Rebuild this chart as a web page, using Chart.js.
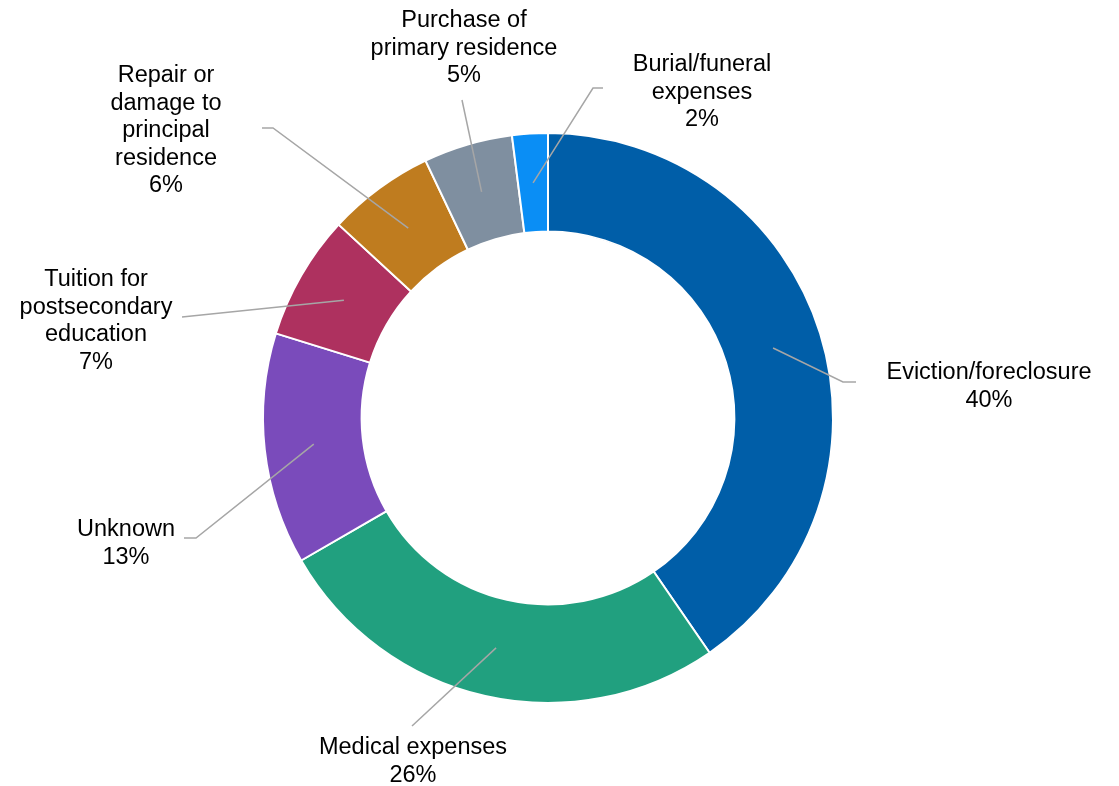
<!DOCTYPE html>
<html>
<head>
<meta charset="utf-8">
<script src="https://cdn.jsdelivr.net/npm/chart.js@4/dist/chart.umd.min.js"></script>
<style>
  html, body { margin: 0; padding: 0; background: #fff; }
  #wrap { width: 1119px; height: 786px; position: relative; }
</style>
</head>
<body>
<div id="wrap"><canvas id="doughnut-chart"></canvas></div>
<script>
// hardship reasons, wrapped the way the callouts show them
const categories = [
    ['Eviction/foreclosure'],
    ['Medical expenses'],
    ['Unknown'],
    ['Tuition for', 'postsecondary', 'education'],
    ['Repair or', 'damage to', 'principal', 'residence'],
    ['Purchase of', 'primary residence'],
    ['Burial/funeral', 'expenses']
];
const shares = [40, 26, 13, 7, 6, 5, 2];
const sliceColors = ['#005EA8', '#21A07F', '#7A4BBB', '#AE315F', '#BF7C1F', '#7F8FA0', '#0A8EF5'];

// callout placement, offsets from the doughnut centre (px)
const calloutLayout = [
    { elbow: [295, -36], stub: 13, text: [441, -39] },
    { elbow: [-136, 308], stub: 0, text: [-135, 336] },
    { elbow: [-352, 120], stub: -12, text: [-422, 118] },
    { elbow: [-366, -101], stub: 0, text: [-452, -132] },
    { elbow: [-275, -290], stub: -11, text: [-382, -336] },
    { elbow: [-86, -318], stub: 0, text: [-84, -391] },
    { elbow: [45, -330], stub: 10, text: [154, -347] }
];

const calloutPlugin = {
    id: 'callouts',
    afterDatasetsDraw: function (chart, args, opts) {
        const ctx = chart.ctx;
        const meta = chart.getDatasetMeta(0);
        const labels = chart.data.labels;
        const values = chart.data.datasets[0].data;

        ctx.save();
        meta.data.forEach(function (arc, i) {
            const p = arc.getProps(['x', 'y', 'startAngle', 'endAngle', 'innerRadius', 'outerRadius'], true);
            const mid = (p.startAngle + p.endAngle) / 2;
            const r = (p.innerRadius + p.outerRadius) / 2;
            const sx = p.x + Math.cos(mid) * r;
            const sy = p.y + Math.sin(mid) * r;
            const c = opts.layout[i];
            const ex = p.x + c.elbow[0];
            const ey = p.y + c.elbow[1];

            ctx.strokeStyle = opts.lineColor;
            ctx.lineWidth = 1.5;
            ctx.beginPath();
            ctx.moveTo(sx, sy);
            ctx.lineTo(ex, ey);
            if (c.stub) ctx.lineTo(ex + c.stub, ey);
            ctx.stroke();

            const lines = labels[i].concat([values[i] + '%']);
            ctx.fillStyle = opts.color;
            ctx.font = opts.font;
            ctx.textAlign = 'center';
            ctx.textBaseline = 'alphabetic';
            lines.forEach(function (t, k) {
                ctx.fillText(t, p.x + c.text[0], p.y + c.text[1] + k * opts.lineHeight);
            });
        });
        ctx.restore();
    }
};

new Chart(document.querySelector('#doughnut-chart').getContext('2d'), {
    type: 'doughnut',
    data: {
        labels: categories,
        datasets: [{
            data: shares,
            backgroundColor: sliceColors,
            borderColor: '#ffffff',
            borderWidth: 2
        }]
    },
    options: {
        responsive: true,
        maintainAspectRatio: false,
        animation: false,
        cutout: '65.4%',
        layout: {
            padding: { top: 132, bottom: 82, left: 262, right: 285 }
        },
        plugins: {
            legend: { display: false },
            tooltip: { enabled: false },
            callouts: {
                layout: calloutLayout,
                lineColor: '#A6A6A6',
                color: '#000000',
                font: '23.5px "Liberation Sans", Arial, sans-serif',
                lineHeight: 27.5
            }
        }
    },
    plugins: [calloutPlugin]
});
</script>
</body>
</html>
